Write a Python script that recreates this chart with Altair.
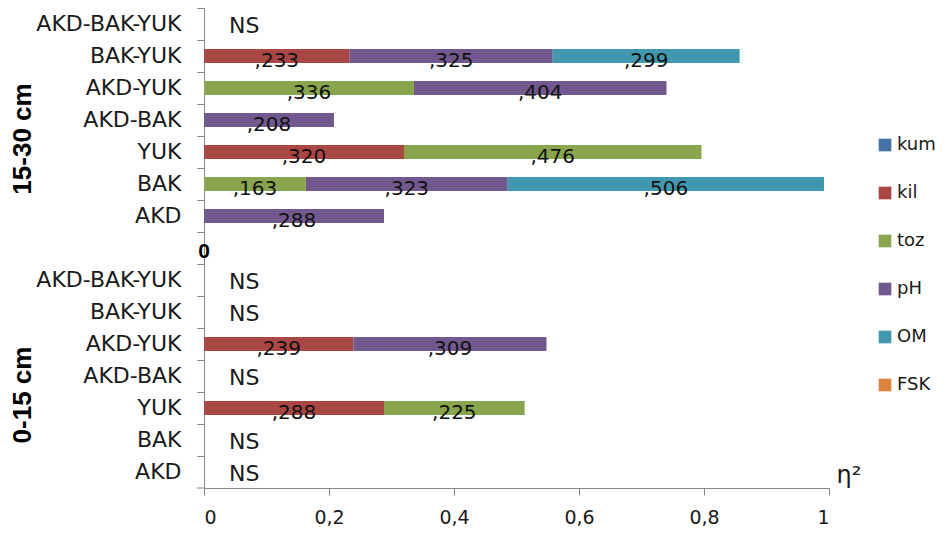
import altair as alt
import pandas as pd

# ---- data ----
rows = ["AKD-BAK-YUK", "BAK-YUK", "AKD-YUK", "AKD-BAK", "YUK", "BAK", "AKD"]
depths = ["15-30 cm", "0-15 cm"]
variables = ["kum", "kil", "toz", "pH", "OM", "FSK"]
colors = ["#4572A7", "#AA4643", "#89A54E", "#71588F", "#4198AF", "#DB843D"]

# eta-squared, 15-30 cm (aligned with rows)
kil_15_30 = [None, 0.233, None, None, 0.320, None, None]
toz_15_30 = [None, None, 0.336, None, 0.476, 0.163, None]
ph_15_30 = [None, 0.325, 0.404, 0.208, None, 0.323, 0.288]
om_15_30 = [None, 0.299, None, None, None, 0.506, None]
# eta-squared, 0-15 cm
kil_0_15 = [None, None, 0.239, None, 0.288, None, None]
toz_0_15 = [None, None, None, None, 0.225, None, None]
ph_0_15 = [None, None, 0.309, None, None, None, None]

x_ticks = [0, 0.2, 0.4, 0.6, 0.8, 1]
ns_text = "NS"
sep_text = "0"
x_title = "η²"

series = {
    "15-30 cm": {"kil": kil_15_30, "toz": toz_15_30, "pH": ph_15_30, "OM": om_15_30},
    "0-15 cm": {"kil": kil_0_15, "toz": toz_0_15, "pH": ph_0_15},
}

bar_recs, ns_recs = [], []
for d in depths:
    for i, r in enumerate(rows):
        key = f"{r}|{d}"
        has = False
        for v, vals in series[d].items():
            if vals[i] is not None:
                bar_recs.append(dict(key=key, var=v, value=vals[i],
                                     ord=variables.index(v),
                                     label="," + f"{vals[i]:.3f}".split(".")[1]))
                has = True
        if not has:
            ns_recs.append(dict(key=key, text=ns_text, x=0))

domain = [f"{r}|15-30 cm" for r in rows] + ["sep"] + [f"{r}|0-15 cm" for r in rows]

df_bars = pd.DataFrame(bar_recs)
df_ns = pd.DataFrame(ns_recs)
df_sep = pd.DataFrame([dict(key="sep", text=sep_text, x=0)])
df_groups = pd.DataFrame([dict(key="AKD-BAK|15-30 cm", text="15-30 cm"),
                          dict(key="AKD-BAK|0-15 cm", text="0-15 cm")])

TXT = "#1a1a1a"
GREY = "#868686"

y_scale = alt.Scale(type="band", domain=domain, paddingInner=0, paddingOuter=0)
y_axis = alt.Axis(title=None,
                  labelExpr="datum.value == 'sep' ? '' : split(datum.value, '|')[0]",
                  bandPosition=0, tickSize=7, labelPadding=16,
                  labelFont="DejaVu Sans", labelFontSize=22, labelColor=TXT,
                  domainColor=GREY, tickColor=GREY, grid=False, labelLimit=300)
x_scale = alt.Scale(domain=[0, 1], nice=False, zero=True)
x_axis = alt.Axis(values=x_ticks,
                  labelExpr="replace(format(datum.value, '~g'), '.', ',')",
                  tickSize=7, labelPadding=13,
                  labelFont="DejaVu Sans", labelFontSize=19, labelColor=TXT,
                  domainColor=GREY, tickColor=GREY, grid=False,
                  title=x_title, titleX=632, titleY=-1, titleAlign="left",
                  titleBaseline="bottom", titleFont="DejaVu Sans", titleFontSize=24,
                  titleFontWeight="normal", titleColor=TXT)


def Y():
    return alt.Y("key:N", scale=y_scale, axis=y_axis, sort=domain)


def X(field):
    return alt.X(field, scale=x_scale, axis=x_axis)


base = alt.Chart(df_bars).transform_stack(
    stack="value", groupby=["key"], as_=["x0", "x1"],
    sort=[alt.SortField(field="ord", order="ascending")]
).transform_calculate(mid="(datum.x0 + datum.x1) / 2")

bars = base.mark_bar(height={"band": 0.44}).encode(
    x=X("x0:Q"), x2="x1:Q", y=Y(),
    color=alt.Color("var:N", scale=alt.Scale(domain=variables, range=colors),
                    legend=alt.Legend(title=None, orient="none", legendX=672, legendY=128,
                                      direction="vertical", symbolType="square",
                                      symbolSize=160, symbolStrokeWidth=0,
                                      labelFont="DejaVu Sans", labelFontSize=18,
                                      labelColor=TXT, rowPadding=30, labelOffset=3,
                                      padding=0)),
    order=alt.Order("ord:Q"),
)

labels = base.mark_text(baseline="alphabetic", dy=11, font="DejaVu Sans",
                        fontSize=20, color="#111111").encode(
    x=X("mid:Q"), y=Y(), text="label:N")

ns = alt.Chart(df_ns).mark_text(align="left", baseline="alphabetic", dx=25, dy=9,
                                font="DejaVu Sans", fontSize=22, color=TXT).encode(
    x=X("x:Q"), y=Y(), text="text:N")

sep = alt.Chart(df_sep).mark_text(align="center", baseline="alphabetic", dy=10,
                                  font="Liberation Sans", fontWeight="bold",
                                  fontSize=21, color="#000000").encode(
    x=X("x:Q"), y=Y(), text="text:N")

groups = alt.Chart(df_groups).mark_text(angle=270, align="center", baseline="middle",
                                        dx=-19, font="Liberation Sans",
                                        fontWeight="bold", fontSize=26,
                                        color="#000000").encode(
    x=alt.value(-181), y=Y(), text="text:N")

bottom_tick = alt.Chart(pd.DataFrame({"k": [0]})).mark_rule(color=GREY).encode(
    x=alt.value(-7), x2=alt.value(0), y=alt.value(480))

chart = alt.layer(bars, labels, ns, sep, groups, bottom_tick).properties(
    width=625, height=480,
    autosize=alt.AutoSizeParams(type="none"),
    padding={"left": 196, "top": 0, "right": 110, "bottom": 40},
).configure_view(stroke=None)

chart.save("out.html", embed_options={"renderer": "svg", "actions": False})
